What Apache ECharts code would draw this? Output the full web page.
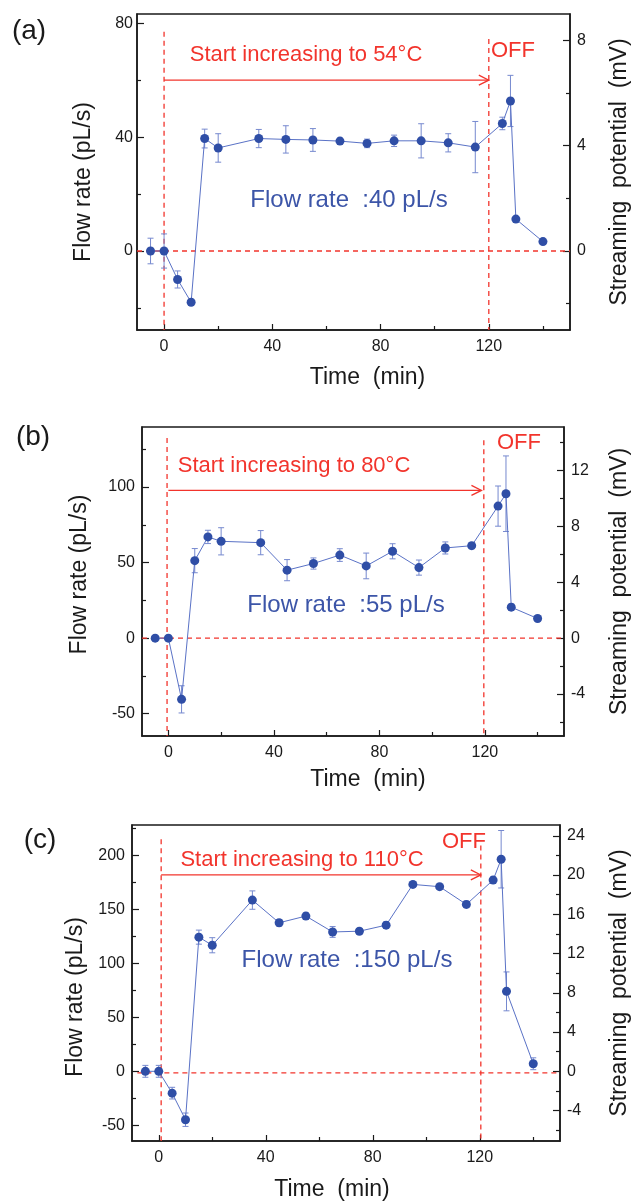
<!DOCTYPE html>
<html>
<head>
<meta charset="utf-8">
<script src="https://cdn.jsdelivr.net/npm/echarts@6/dist/echarts.min.js"></script>
<style>
html, body { margin: 0; padding: 0; background: #fff; }
#chart { width: 639px; height: 1202px; }
</style>
</head>
<body>
<div id="chart"></div>
<script>
// sampling times (min), same for the three runs
var timeMin = [-5, 0, 5, 10, 15, 20, 35, 45, 55, 65, 75, 85, 95, 105, 115, 125, 128, 130, 140];

// (a) heating to 54°C
var flowA = [0, 0, -10, -18, 39.5, 36.2, 39.5, 39.2, 39, 38.6, 37.8, 38.7, 38.7, 38, 36.5, 44.8, 52.7, 11.2, 3.3];
var errA  = [4.5, 6, 3, 0, 3.3, 5, 3.2, 4.8, 4, 1, 1.5, 2, 6, 3.2, 9, 2.2, 9, 0, 0];
// (b) heating to 80°C
var flowB = [0, 0, -40.5, 51.3, 67, 64.1, 63.2, 45, 49.4, 55, 47.8, 57.5, 46.7, 59.7, 61.2, 87.4, 95.6, 20.5, 13];
var errB  = [0, 0, 9, 8, 4.4, 9, 8, 7, 3.7, 4.2, 8.5, 5, 5, 4, 2, 13.3, 25, 2, 1.5];
// (c) heating to 110°C
var flowC = [0, 0, -20.2, -44.8, 124.2, 116.7, 158.5, 137.5, 143.7, 129, 129.7, 135.3, 173, 170.9, 154.5, 177, 196.3, 74, 7];
var errC  = [5.5, 5.5, 5.4, 6.2, 6.5, 7, 8.5, 3, 3, 5, 2.5, 3, 2, 2, 3, 3, 26.6, 18, 5.5];

var panelNames = ['(a)', '(b)', '(c)'];
var targetTemps = ['54°C', '80°C', '110°C'];
var flowSettings = ['40', '55', '150'];

// axes
var timeRange = [-10, 150];
var timeTicks = [0, 40, 80, 120];
var timeMinor = [20, 60, 100, 140];

var flowRangeA = [-27.75, 83.25], mvRangeA = [-3, 9];
var flowTicksA = [0, 40, 80], flowMinorA = [-20, 20, 60];
var mvTicksA = [0, 4, 8], mvMinorA = [-2, 2, 6];

var flowRangeB = [-64.75, 139.75], mvRangeB = [-7, 15.1];
var flowTicksB = [-50, 0, 50, 100], flowMinorB = [-25, 25, 75, 125];
var mvTicksB = [-4, 0, 4, 8, 12], mvMinorB = [-6, -2, 2, 6, 10, 14];

var flowRangeC = [-64.5, 228], mvRangeC = [-7.1, 25.1];
var flowTicksC = [-50, 0, 50, 100, 150, 200], flowMinorC = [-25, 25, 75, 125, 175, 225];
var mvTicksC = [-4, 0, 4, 8, 12, 16, 20, 24], mvMinorC = [-6, -2, 2, 6, 10, 14, 18, 22];

// red guides: [t1, flow1, t2, flow2] and arrow [tStart, tEnd, flow]
var guidesA = [[0, 77, 0, -27.75], [120, 74.5, 120, -27.75], [-10, 0, 150, 0]];
var guidesB = [[-0.5, 132.4, -0.5, -64.75], [119.6, 130.9, 119.6, -64.75], [-10, 0, 150, 0]];
var guidesC = [[0.9, 214.9, 0.9, -64.5], [120.4, 209, 120.4, -64.5], [-8, -1.5, 150, -1.5]];
var arrowA = [[0, 120, 60]];
var arrowB = [[0, 118.7, 97.8]];
var arrowC = [[0.9, 120.4, 181.8]];

var FONT = "'Liberation Sans', Arial, sans-serif";
var INK = '#1a1a1a';
var RED = '#f2342c';
var DOT = '#2f4ea6';
var LINE = '#5a72c6';
var ERR = '#7689cf';
var BLUE_TXT = '#3c55a8';

var panels = [
	{ flow: flowA, err: errA, flowRange: flowRangeA, mvRange: mvRangeA, flowTicks: flowTicksA, flowMinor: flowMinorA,
	  mvTicks: mvTicksA, mvMinor: mvMinorA, guides: guidesA, arrow: arrowA,
	  grid: { left: 137, top: 14, width: 433, height: 316 },
	  leftGap: 42, leftPad: [0, 20, 0, 0], rightGap: 38, xGap: 36, xPad: [0, 0, 0, 28], leftMargin: 4,
	  pos: { label: [29, 31], start: [306, 55], off: [513, 51], flow: [349, 200] } },
	{ flow: flowB, err: errB, flowRange: flowRangeB, mvRange: mvRangeB, flowTicks: flowTicksB, flowMinor: flowMinorB,
	  mvTicks: mvTicksB, mvMinor: mvMinorB, guides: guidesB, arrow: arrowB,
	  grid: { left: 142, top: 427, width: 423, height: 309 },
	  leftGap: 51, leftPad: [0, 0, 0, 14], rightGap: 44, xGap: 32, xPad: [0, 0, 0, 30], leftMargin: 7,
	  pos: { label: [33, 437], start: [294, 466], off: [519, 443], flow: [346, 605] } },
	{ flow: flowC, err: errC, flowRange: flowRangeC, mvRange: mvRangeC, flowTicks: flowTicksC, flowMinor: flowMinorC,
	  mvTicks: mvTicksC, mvMinor: mvMinorC, guides: guidesC, arrow: arrowC,
	  grid: { left: 132, top: 825, width: 432, height: 317 },
	  leftGap: 44, leftPad: [0, 28, 0, 0], rightGap: 48, xGap: 37, xPad: [0, 28, 0, 0], leftMargin: 7,
	  pos: { label: [40, 840], start: [302, 860], off: [464, 842], flow: [347, 960] } }
];

// 误差线
function renderError(params, api) {
	var e = api.value(2);
	if (!e) {
		return;
	}
	var t = api.value(0), v = api.value(1);
	var hi = api.coord([t, v + e]);
	var lo = api.coord([t, v - e]);
	var cap = 3;
	var st = { stroke: ERR, lineWidth: 1 };
	return {
		type: 'group',
		children: [
			{ type: 'line', shape: { x1: hi[0], y1: hi[1], x2: lo[0], y2: lo[1] }, style: st },
			{ type: 'line', shape: { x1: hi[0] - cap, y1: hi[1], x2: hi[0] + cap, y2: hi[1] }, style: st },
			{ type: 'line', shape: { x1: lo[0] - cap, y1: lo[1], x2: lo[0] + cap, y2: lo[1] }, style: st }
		]
	};
}

// 红色虚线
function renderGuide(params, api) {
	var p1 = api.coord([api.value(0), api.value(1)]);
	var p2 = api.coord([api.value(2), api.value(3)]);
	return {
		type: 'line',
		shape: { x1: p1[0], y1: p1[1], x2: p2[0], y2: p2[1] },
		style: { stroke: RED, lineWidth: 1.3, lineDash: [5, 4] }
	};
}

// 箭头
function renderArrow(params, api) {
	var p1 = api.coord([api.value(0), api.value(2)]);
	var p2 = api.coord([api.value(1), api.value(2)]);
	var st = { stroke: RED, lineWidth: 1.3, fill: null };
	return {
		type: 'group',
		children: [
			{ type: 'line', shape: { x1: p1[0], y1: p1[1], x2: p2[0], y2: p2[1] }, style: st },
			{ type: 'polyline', shape: { points: [[p2[0] - 10, p2[1] - 5], [p2[0], p2[1]], [p2[0] - 10, p2[1] + 5]] }, style: st }
		]
	};
}

var grids = [], xAxes = [], yAxes = [], series = [], graphics = [];
var labelStyle = { color: INK, fontSize: 16, fontFamily: FONT };
var nameStyle = { color: INK, fontSize: 23, fontFamily: FONT };

for (var i = 0; i < panels.length; i++) {
	var p = panels[i];
	grids.push({ left: p.grid.left, top: p.grid.top, width: p.grid.width, height: p.grid.height,
		show: true, borderColor: INK, borderWidth: 1.5, backgroundColor: 'transparent' });

	// time axis + minor ticks
	xAxes.push({
		type: 'value', gridIndex: i, position: 'bottom', min: timeRange[0], max: timeRange[1],
		name: 'Time  (min)', nameLocation: 'middle', nameGap: p.xGap,
		nameTextStyle: $extend(nameStyle, { padding: p.xPad }),
		axisLine: { show: true, onZero: false, lineStyle: { color: INK, width: 1.5 } },
		axisTick: { show: true, inside: true, length: 6, customValues: timeTicks, lineStyle: { color: INK, width: 1.2 } },
		axisLabel: $extend(labelStyle, { margin: 9, customValues: timeTicks }),
		splitLine: { show: false }
	});
	xAxes.push({
		type: 'value', gridIndex: i, position: 'bottom', min: timeRange[0], max: timeRange[1],
		axisLine: { show: false, onZero: false }, axisLabel: { show: false }, splitLine: { show: false },
		axisTick: { show: true, inside: true, length: 4, customValues: timeMinor, lineStyle: { color: INK, width: 1.2 } }
	});

	// flow rate (left)
	yAxes.push({
		type: 'value', gridIndex: i, position: 'left', min: p.flowRange[0], max: p.flowRange[1],
		name: 'Flow rate (pL/s)', nameLocation: 'middle', nameRotate: 90, nameGap: p.leftGap,
		nameTextStyle: $extend(nameStyle, { padding: p.leftPad }),
		axisLine: { show: true, onZero: false, lineStyle: { color: INK, width: 1.5 } },
		axisTick: { show: true, inside: true, length: 7, customValues: p.flowTicks, lineStyle: { color: INK, width: 1.2 } },
		axisLabel: $extend(labelStyle, { margin: p.leftMargin, customValues: p.flowTicks }),
		splitLine: { show: false }
	});
	yAxes.push({
		type: 'value', gridIndex: i, position: 'left', min: p.flowRange[0], max: p.flowRange[1],
		axisLine: { show: false, onZero: false }, axisLabel: { show: false }, splitLine: { show: false },
		axisTick: { show: true, inside: true, length: 4, customValues: p.flowMinor, lineStyle: { color: INK, width: 1.2 } }
	});
	// streaming potential (right)
	yAxes.push({
		type: 'value', gridIndex: i, position: 'right', min: p.mvRange[0], max: p.mvRange[1],
		name: 'Streaming  potential  (mV)', nameLocation: 'middle', nameRotate: 90, nameGap: p.rightGap,
		nameTextStyle: nameStyle,
		axisLine: { show: true, onZero: false, lineStyle: { color: INK, width: 1.5 } },
		axisTick: { show: true, inside: true, length: 7, customValues: p.mvTicks, lineStyle: { color: INK, width: 1.2 } },
		axisLabel: $extend(labelStyle, { margin: 7, customValues: p.mvTicks }),
		splitLine: { show: false }
	});
	yAxes.push({
		type: 'value', gridIndex: i, position: 'right', min: p.mvRange[0], max: p.mvRange[1],
		axisLine: { show: false, onZero: false }, axisLabel: { show: false }, splitLine: { show: false },
		axisTick: { show: true, inside: true, length: 4, customValues: p.mvMinor, lineStyle: { color: INK, width: 1.2 } }
	});

	var xi = i * 2, yi = i * 4;
	series.push({
		type: 'custom', xAxisIndex: xi, yAxisIndex: yi, renderItem: renderGuide, silent: true, z: 1,
		data: p.guides
	});
	series.push({
		type: 'custom', xAxisIndex: xi, yAxisIndex: yi, renderItem: renderArrow, silent: true, z: 1,
		data: p.arrow
	});
	series.push({
		type: 'custom', xAxisIndex: xi, yAxisIndex: yi, renderItem: renderError, silent: true, z: 2,
		data: timeMin.map(function(t, k) { return [t, p.flow[k], p.err[k]]; })
	});
	series.push({
		type: 'line', xAxisIndex: xi, yAxisIndex: yi, z: 3,
		symbol: 'circle', symbolSize: 9,
		itemStyle: { color: DOT },
		lineStyle: { color: LINE, width: 1 },
		data: timeMin.map(function(t, k) { return [t, p.flow[k]]; })
	});

	graphics.push(txt(p.pos.label, panelNames[i], 28, INK));
	graphics.push(txt(p.pos.start, 'Start increasing to ' + targetTemps[i], 22, RED));
	graphics.push(txt(p.pos.off, 'OFF', 22, RED));
	graphics.push(txt(p.pos.flow, 'Flow rate  :' + flowSettings[i] + ' pL/s', 24, BLUE_TXT));
}

function txt(xy, text, size, color) {
	return {
		type: 'text', x: xy[0], y: xy[1], silent: true, z: 10,
		style: { text: text, fill: color, fontSize: size, fontFamily: FONT, align: 'center', verticalAlign: 'middle' }
	};
}

function $extend(a, b) {
	var o = {};
	for (var k in a) o[k] = a[k];
	for (var k2 in b) o[k2] = b[k2];
	return o;
}

var myChart = echarts.init(document.getElementById('chart'), null, { renderer: 'canvas' });
myChart.setOption({
	animation: false,
	backgroundColor: '#ffffff',
	grid: grids,
	xAxis: xAxes,
	yAxis: yAxes,
	series: series,
	graphic: graphics
});
</script>
</body>
</html>
